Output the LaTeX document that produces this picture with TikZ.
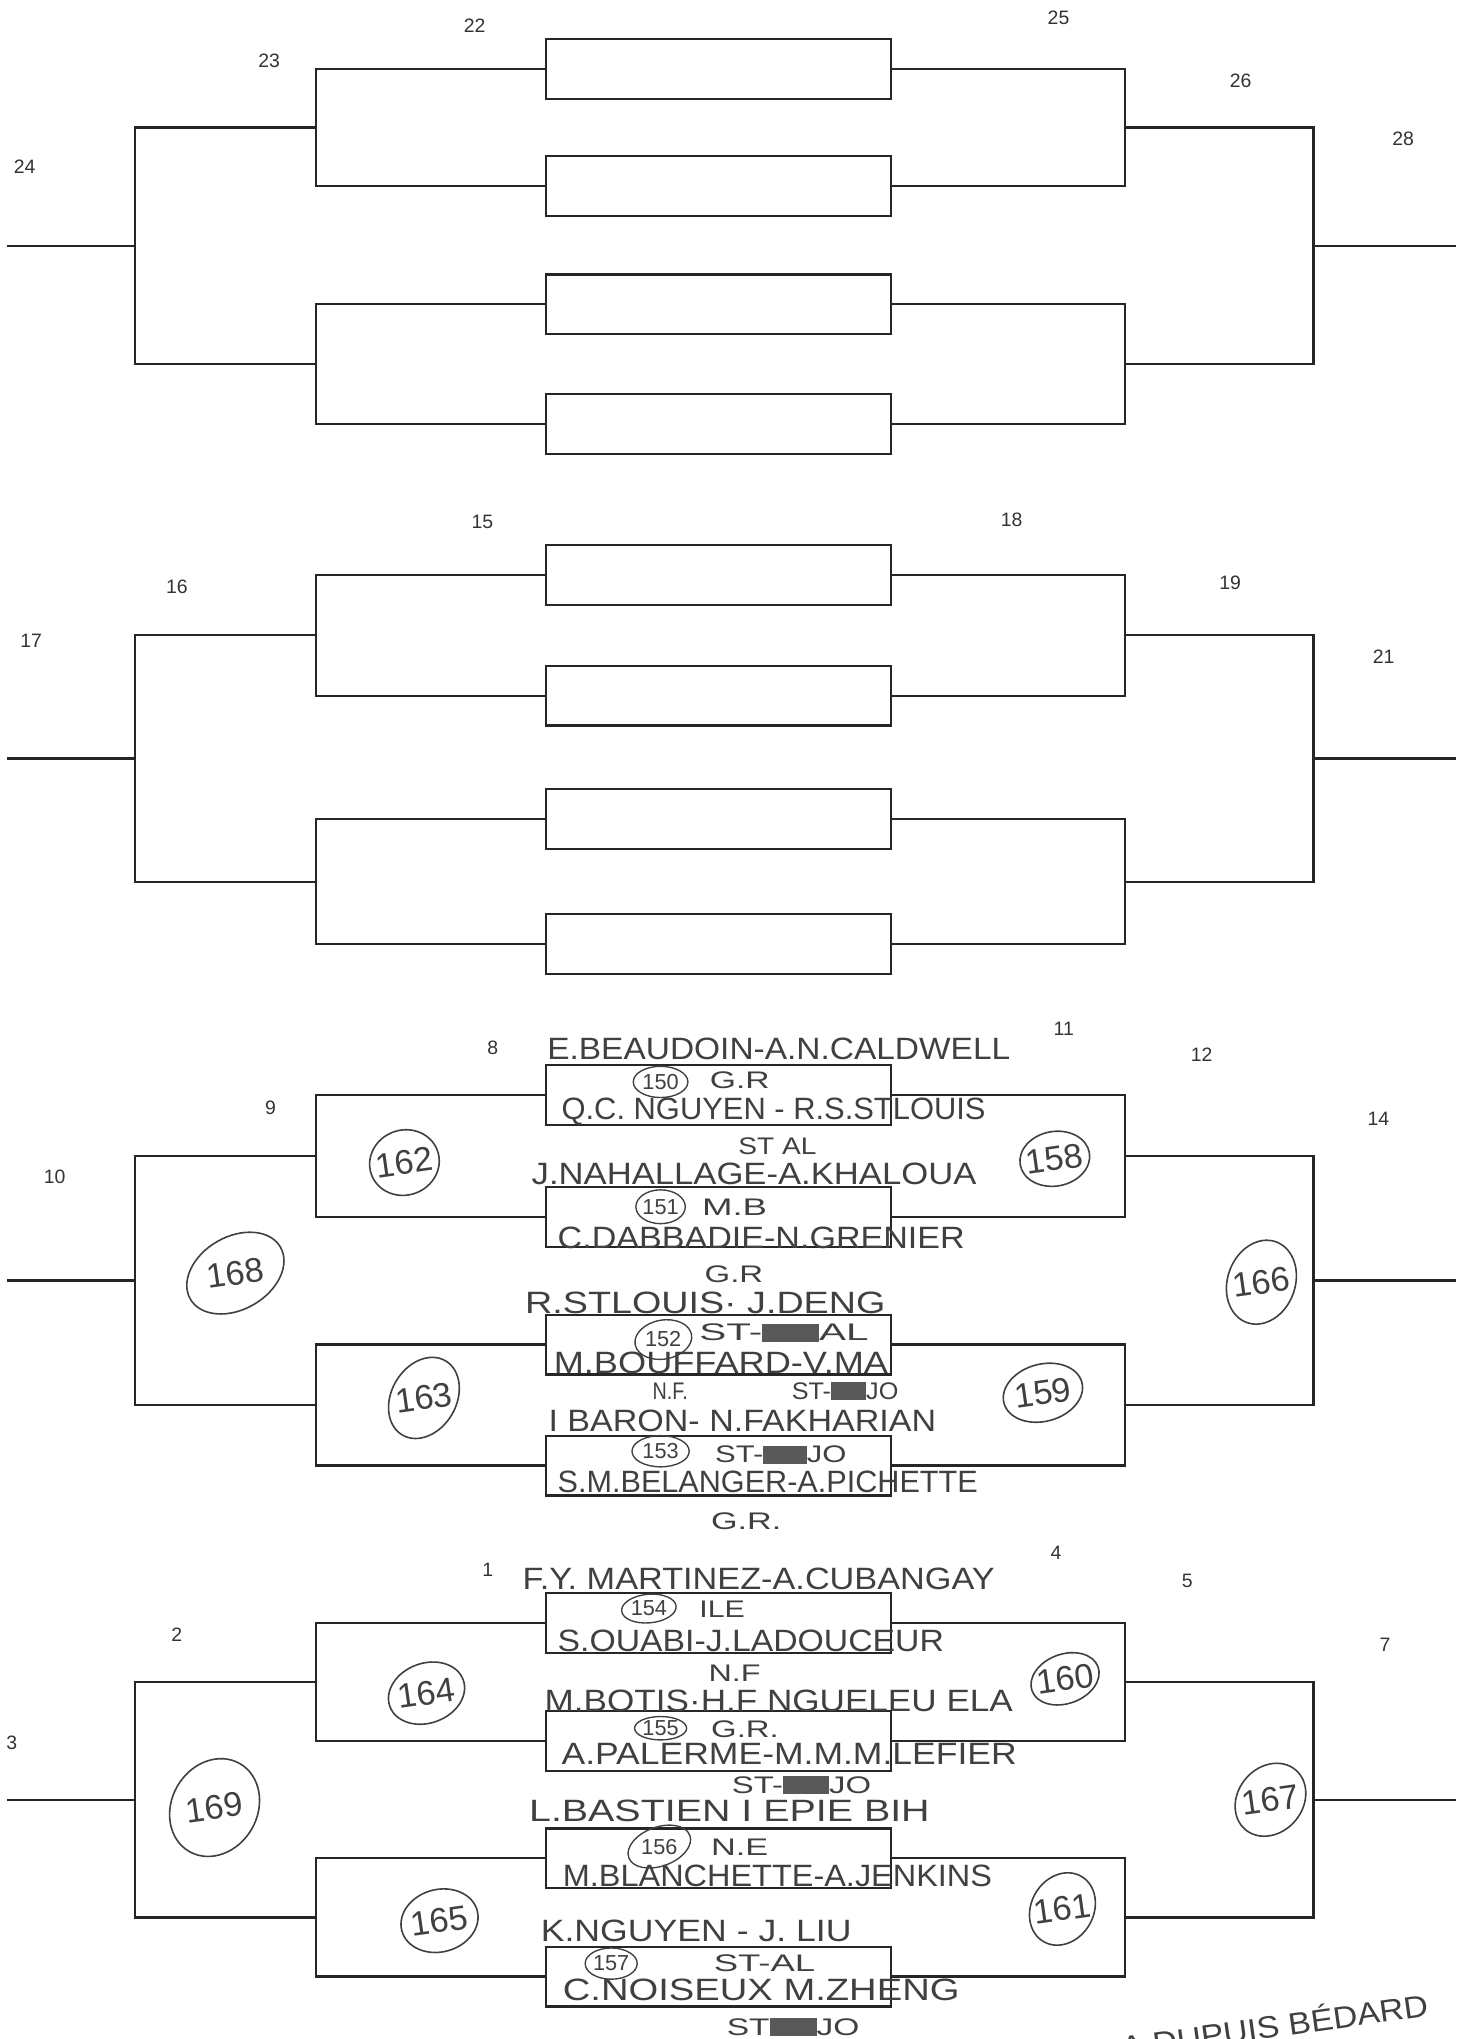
\documentclass[tikz,border=0pt]{standalone}
\usepackage{fontspec}
\setmainfont{Liberation Sans}
\usepackage{graphicx}
\newlength\pxu
\setlength\pxu{0.02cm}
\newcommand\fitw[2]{\resizebox{#1\pxu}{\height}{#2}}
\newcommand\blot{{\color{black!65}\rule[-0.05em]{1.4em}{0.75em}}}

\begin{document}
\begin{tikzpicture}[
      x=0.02cm,
      y=-0.02cm,
      line width=1pt,
      match/.style={draw=black!85, minimum width=5.3cm, minimum height=0.92cm, inner sep=0pt},
      bline/.style={draw=black!85},
      seed/.style={inner sep=0pt, text=black!80, font=\fontsize{8.5}{8.5}\selectfont},
      hw/.style={inner sep=0pt, anchor=base west, text=black!75, font=\fontsize{13.5}{13.5}\selectfont},
      tag/.style={hw, font=\fontsize{10.5}{10.5}\selectfont},
      ring/.style={draw=black!75, line width=0.7pt},
      bignum/.style={inner sep=0pt, text=black!75, font=\fontsize{15}{15}\selectfont},
      smallnum/.style={inner sep=0pt, text=black!75, font=\fontsize{9.5}{9.5}\selectfont}
    ]
    \useasboundingbox (0,0) rectangle (1128,1568);

    % four brackets
    \foreach \b/\ya/\yb/\yc/\yd in {A/30/120/211/303, B/419/512/607/703, C/819/913/1011/1104, D/1225/1316/1406/1497}{
      \node[match] (\b1) at (552.5,{\ya+23}) {};
      \node[match] (\b2) at (552.5,{\yb+23}) {};
      \node[match] (\b3) at (552.5,{\yc+23}) {};
      \node[match] (\b4) at (552.5,{\yd+23}) {};
      \coordinate (\b-lu) at (243,{(\ya+\yb)/2+23});
      \coordinate (\b-ld) at (243,{(\yc+\yd)/2+23});
      \coordinate (\b-lo) at (104,{(\ya+\yb+\yc+\yd)/4+23});
      \coordinate (\b-ls) at (5,{(\ya+\yb+\yc+\yd)/4+23});
      \coordinate (\b-ru) at (865,{(\ya+\yb)/2+23});
      \coordinate (\b-rd) at (865,{(\yc+\yd)/2+23});
      \coordinate (\b-ro) at (1010,{(\ya+\yb+\yc+\yd)/4+23});
      \coordinate (\b-rs) at (1120,{(\ya+\yb+\yc+\yd)/4+23});
      \draw[bline] (\b1.west) -| (\b-lu) |- (\b2.west);
      \draw[bline] (\b3.west) -| (\b-ld) |- (\b4.west);
      \draw[bline] (\b-lu) -| (\b-lo) |- (\b-ld);
      \draw[bline] (\b-lo) -- (\b-ls);
      \draw[bline] (\b1.east) -| (\b-ru) |- (\b2.east);
      \draw[bline] (\b3.east) -| (\b-rd) |- (\b4.east);
      \draw[bline] (\b-ru) -| (\b-ro) |- (\b-rd);
      \draw[bline] (\b-ro) -- (\b-rs);
    }

    % printed match numbers
    \foreach \n/\px/\py in {22/365/20, 23/207/47, 24/19/128, 25/814/14, 26/954/62, 28/1079/107,
        15/371/401, 16/136/451, 17/24/493, 18/778/400, 19/946/448, 21/1064/505,
        8/379/806, 9/208/852, 10/42/905, 11/818/791, 12/924/811, 14/1060/860,
        1/375/1207, 2/136/1257, 3/9/1340, 4/812/1194, 5/913/1216, 7/1065/1265}
      \node[seed] (n\n) at (\px,\py) {\n};

    % handwritten names
    \foreach \t/\px/\py/\w [count=\i] in {
        E.BEAUDOIN-A.N.CALDWELL/420/815/356, Q.C. NGUYEN - R.S.STLOUIS/431/861/326,
        J.NAHALLAGE-A.KHALOUA/408/911/342, C.DABBADIE-N.GRENIER/428/960/313,
        R.STLOUIS· J.DENG/403/1010/277, M.BOUFFARD-V.MA/425/1056/257,
        I BARON- N.FAKHARIAN/421/1101/298, S.M.BELANGER-A.PICHETTE/428/1148/323,
        F.Y. MARTINEZ-A.CUBANGAY/401/1222/363, S.OUABI-J.LADOUCEUR/428/1270/297,
        M.BOTIS·H.F NGUELEU ELA/418/1316/360, A.PALERME-M.M.M.LEFIER/431/1357/350,
        L.BASTIEN I EPIE BIH/406/1401/308, M.BLANCHETTE-A.JENKINS/432/1451/330,
        K.NGUYEN - J. LIU/415/1493/239, C.NOISEUX  M.ZHENG/432/1538/305}
      \node[hw] (name\i) at (\px,\py) {\fitw{\w}{\t}};

    % handwritten club tags
    \foreach \t/\px/\py/\w [count=\i] in {
        G.R/545/837/46, ST AL/567/888/60, M.B/539/935/50, G.R/541/986/45,
        ST-\blot AL/537/1031/130, N.F./501/1076/27, ST-\blot JO/608/1076/82,
        ST-\blot JO/549/1125/101, G.R./546/1176/54, ILE/537/1244/35,
        N.F/544/1293/40, G.R./546/1336/52, ST-\blot JO/562/1379/107,
        N.E/546/1427/44, ST-AL/548/1516/78, ST\blot JO/558/1565/102}
      \node[tag] (tag\i) at (\px,\py) {\fitw{\w}{\t}};

    % circled numbers
    \foreach \n/\px/\py/\rx/\ry/\a in {150/508/832/21/12/0, 151/508/928/19/13/0,
        152/510/1030/22/15/10, 153/508/1116/22/12/0, 154/499/1237/21/11/5,
        155/508/1329/20/9/0, 156/507/1420/25/15/20, 157/470/1510/20/12/0}{
      \node[smallnum] (c\n) at (\px,\py) {\n};
      \draw[ring, line width=0.6pt, rotate around={\a:(c\n)}] (c\n) ellipse [x radius=\rx, y radius=\ry];
    }
    \foreach \n/\px/\py/\rx/\ry/\a in {162/311/894/27/25/20, 168/181/979/40/28/30,
        163/326/1075/33/25/60, 158/811/891/27/21/10, 166/970/986/33/26/70,
        159/802/1071/31/22/15, 164/328/1302/30/23/20, 169/165/1390/39/33/60,
        165/338/1477/30/24/15, 160/819/1291/27/19/20, 167/977/1384/30/25/50,
        161/817/1468/29/24/60}{
      \node[bignum, rotate=8] (c\n) at (\px,\py) {\n};
      \draw[ring, rotate around={\a:(c\n)}] (c\n) ellipse [x radius=\rx, y radius=\ry];
    }

    \node[hw, anchor=base east, rotate=8] (sign) at (1100,1550) {\fitw{238}{A.DUPUIS BÉDARD}};
  \end{tikzpicture}
\end{document}
